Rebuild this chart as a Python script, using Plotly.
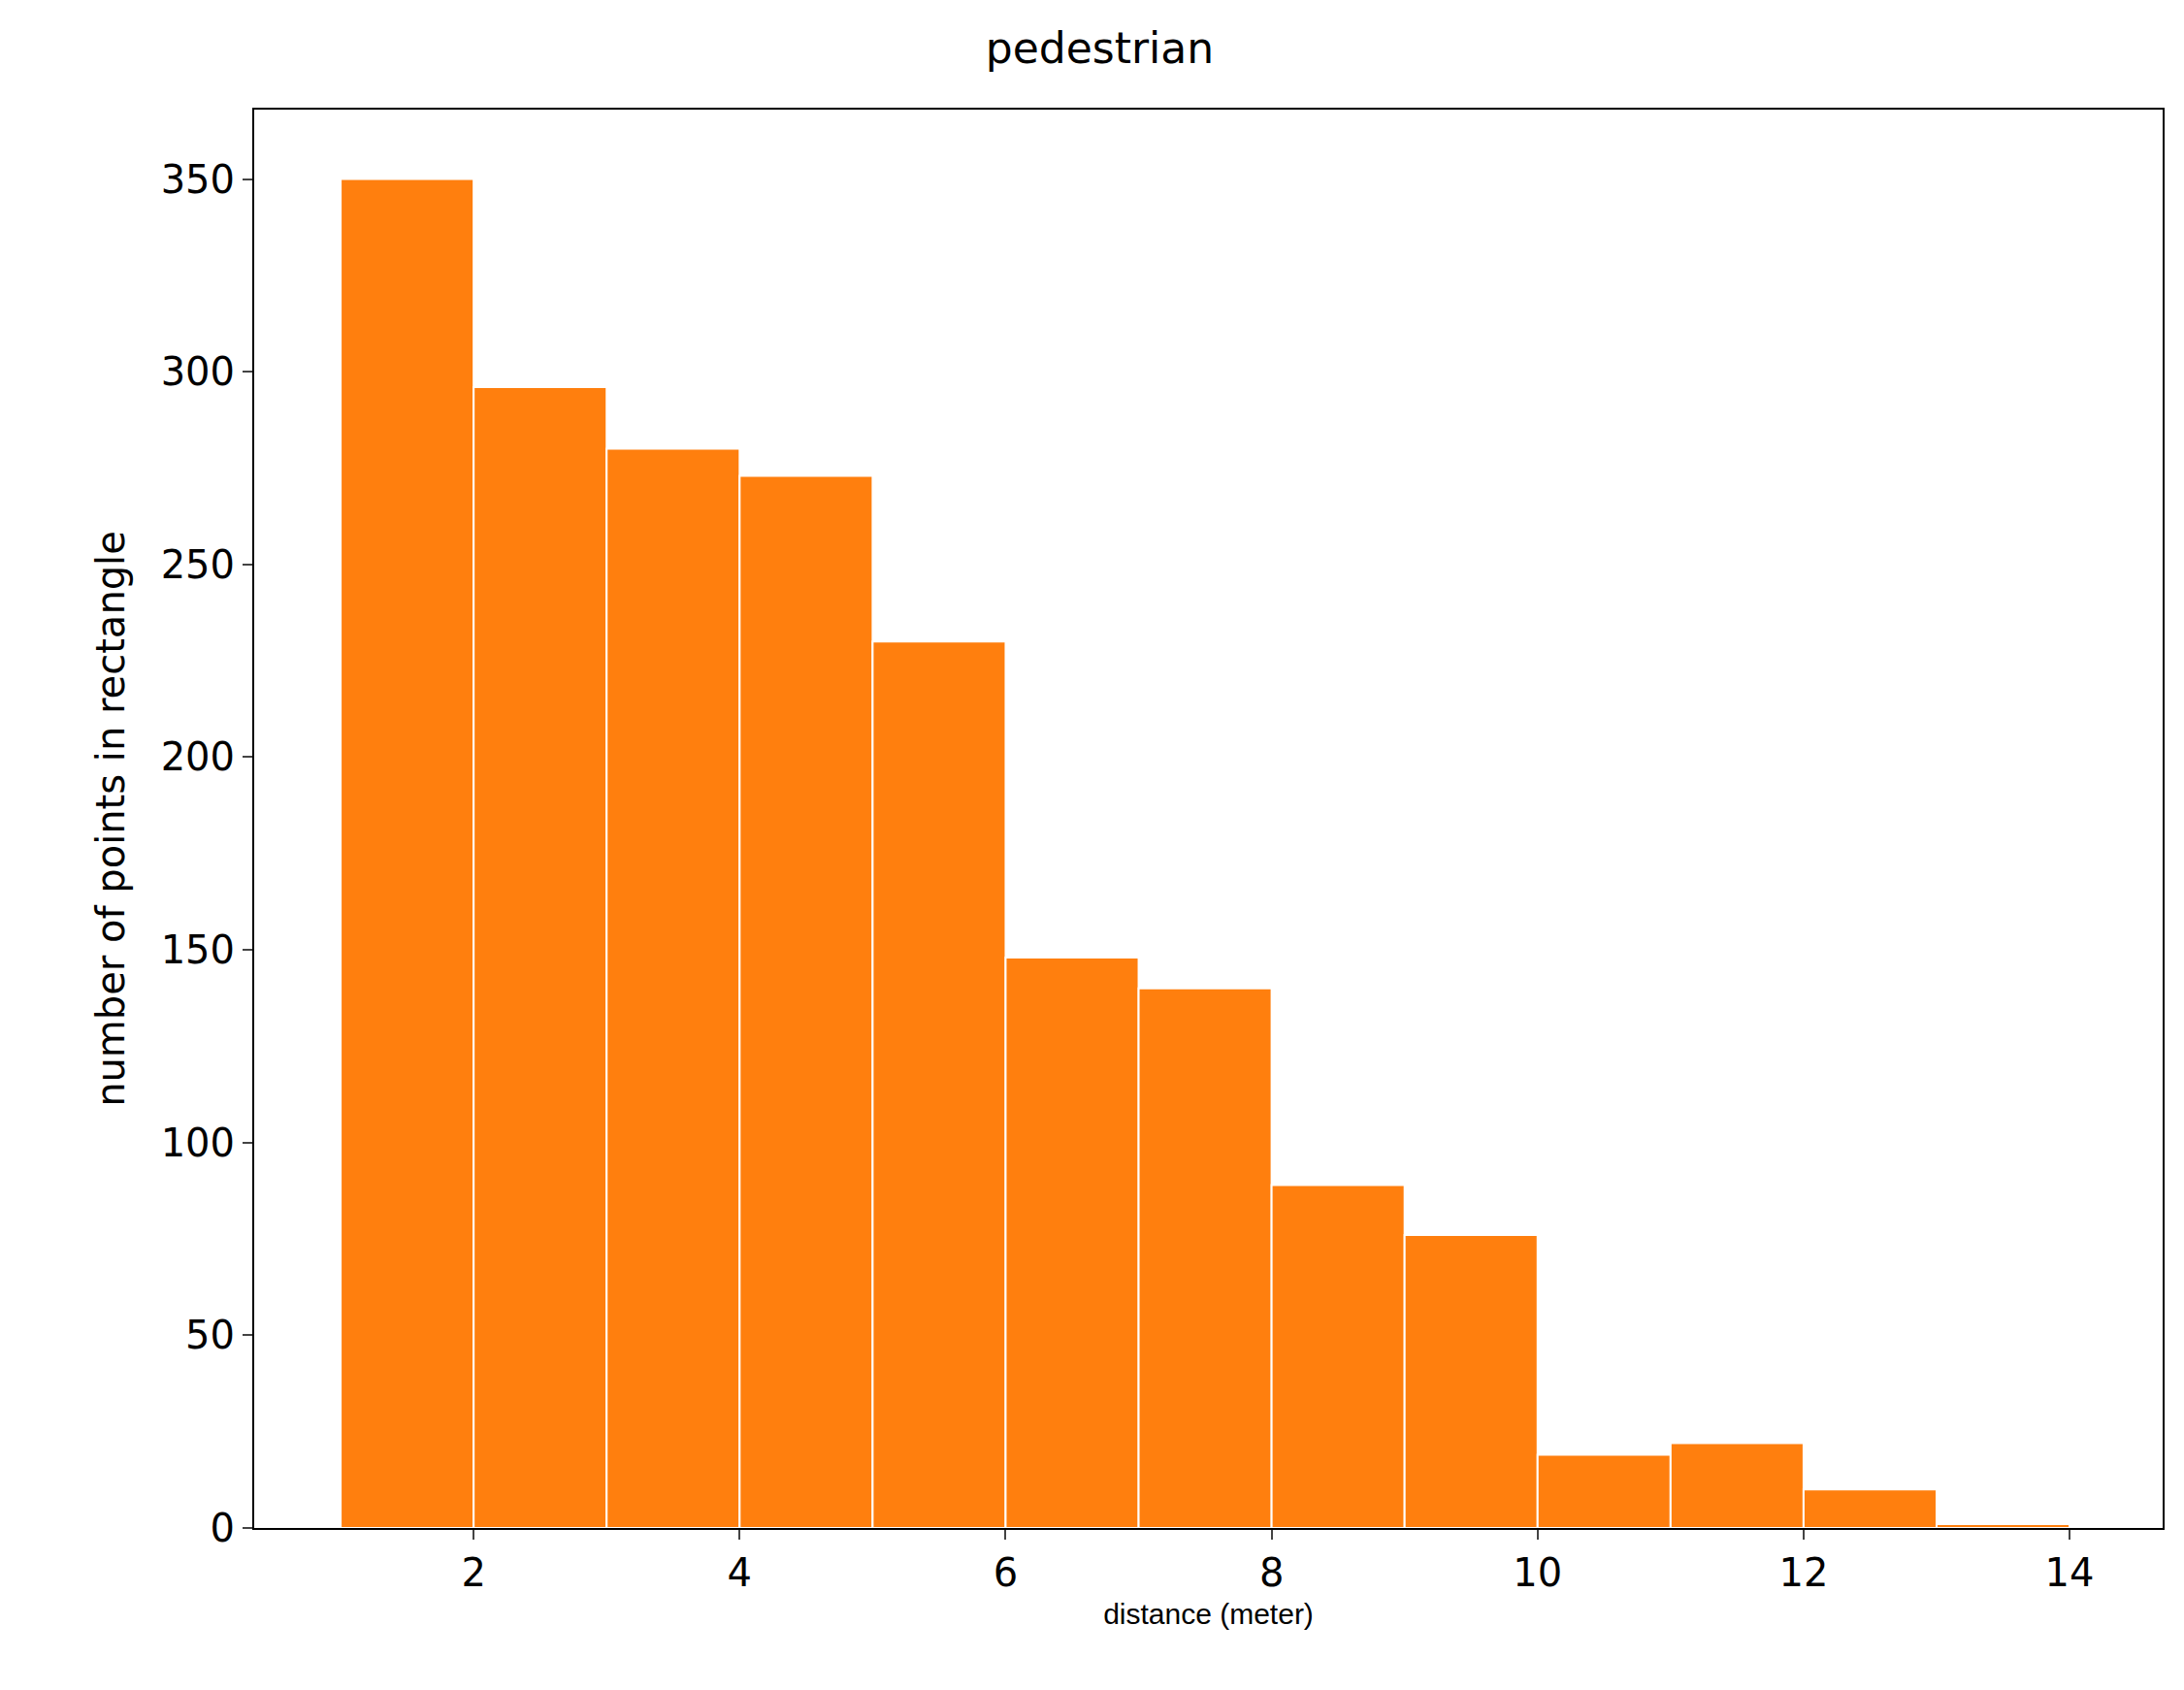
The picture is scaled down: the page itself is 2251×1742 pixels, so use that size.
import plotly.graph_objects as go

bin_left = [1, 2, 3, 4, 5, 6, 7, 8, 9, 10, 11, 12, 13]
counts = [350, 296, 280, 273, 230, 148, 140, 89, 76, 19, 22, 10, 1]
x_ticks = [2, 4, 6, 8, 10, 12, 14]
y_ticks = [0, 50, 100, 150, 200, 250, 300, 350]

fig = go.Figure(go.Bar(
    x=[b + 0.5 for b in bin_left], y=counts, width=1,
    marker=dict(color="#ff7f0e", line=dict(color="white", width=2)),
))
fig.update_layout(
    width=2251, height=1742, plot_bgcolor="white", paper_bgcolor="white",
    margin=dict(l=254, r=30, t=105, b=175), showlegend=False,
    font=dict(family="DejaVu Sans", color="black"),
    title=dict(text="pedestrian", x=0.5, xanchor="center", y=0.985, yanchor="top",
               font=dict(size=44)),
)
fig.update_xaxes(range=[0.35, 14.7], tickvals=x_ticks, showgrid=False, zeroline=False,
                 ticks="outside", ticklen=10, tickwidth=2, tickfont=dict(size=40),
                 showline=True, linecolor="black", linewidth=2, mirror=True,
                 title=dict(text="distance (meter)", font=dict(size=30, family="Liberation Sans"), standoff=10))
fig.update_yaxes(range=[0, 368], tickvals=y_ticks, showgrid=False, zeroline=False,
                 ticks="outside", ticklen=10, tickwidth=2, tickfont=dict(size=40),
                 showline=True, linecolor="black", linewidth=2, mirror=True,
                 title=dict(text="number of points in rectangle", font=dict(size=40), standoff=25))
fig.write_html("out.html")
